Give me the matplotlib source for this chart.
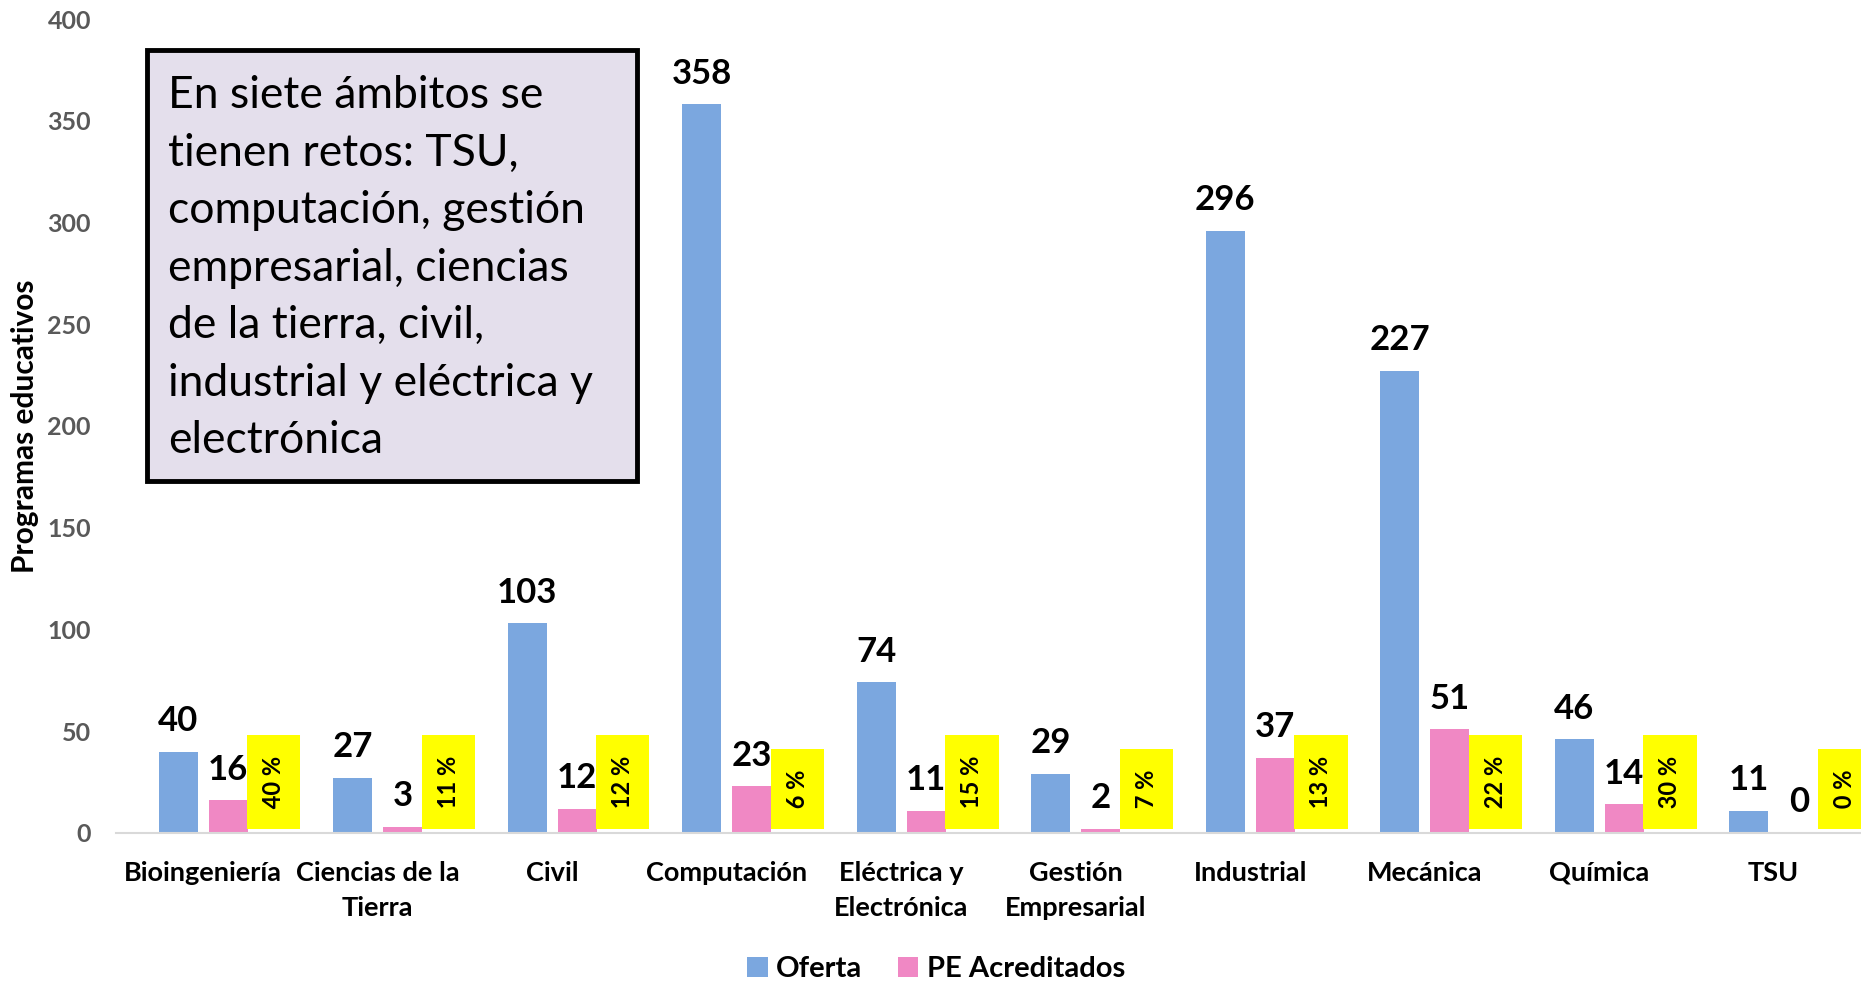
import matplotlib
matplotlib.use("Agg")
import matplotlib.pyplot as plt
from matplotlib.patches import Rectangle
import numpy as np

categories = ["Bioingeniería", "Ciencias de la\nTierra", "Civil", "Computación",
              "Eléctrica y\nElectrónica", "Gestión\nEmpresarial", "Industrial",
              "Mecánica", "Química", "TSU"]
oferta = [40, 27, 103, 358, 74, 29, 296, 227, 46, 11]
acreditados = [16, 3, 12, 23, 11, 2, 37, 51, 14, 0]
porcentajes = ["40 %", "11 %", "12 %", "6 %", "15 %", "7 %", "13 %", "22 %", "30 %", "0 %"]
yticks = [0, 50, 100, 150, 200, 250, 300, 350, 400]
note = ("En siete ámbitos se\ntienen retos: TSU,\ncomputación, gestión\n"
        "empresarial, ciencias\nde la tierra, civil,\nindustrial y eléctrica y\nelectrónica")

FONT = "Lato"
plt.rcParams['font.family'] = [FONT, 'DejaVu Sans']

BLUE = "#7BA7DF"
PINK = "#F088C4"
YELLOW = "#FFFF00"

fig = plt.figure(figsize=(18.61, 9.81), dpi=100)
ax = fig.add_axes([0.0623, 0.1509, 0.9377, 0.8297])

x = np.arange(len(categories))
w = 0.224
off = 0.143
b1 = ax.bar(x - off, oferta, w, color=BLUE, label="Oferta")
b2 = ax.bar(x + off, acreditados, w, color=PINK, label="PE Acreditados")

for xi, v in zip(x, oferta):
    ax.annotate(str(v), (xi - off, v), xytext=(0, 10.5), textcoords="offset points",
                ha="center", va="bottom", fontsize=25, fontweight="bold", color="black")
for xi, v in zip(x, acreditados):
    ax.annotate(str(v), (xi + off, v), xytext=(0, 10.5), textcoords="offset points",
                ha="center", va="bottom", fontsize=25, fontweight="bold", color="black")
for xi, p in zip(x, porcentajes):
    ax.annotate(" " + p + " ", (xi + 0.405, 0), xytext=(0, 13.7), textcoords="offset points",
                ha="center", va="bottom", rotation=90, fontsize=17, fontweight="bold",
                color="black", annotation_clip=False,
                bbox=dict(boxstyle="square,pad=0.64", fc=YELLOW, ec="none"))

ax.set_xlim(-0.5, 9.5)
ax.set_ylim(0, 400)
ax.set_yticks(yticks)
ax.set_xticks(x)
ax.set_xticklabels(categories, fontsize=19.5, fontweight="bold", color="black", linespacing=1.55)
for t in ax.get_yticklabels():
    t.set_fontsize(18)
    t.set_fontweight("bold")
    t.set_color("#595959")
ax.tick_params(axis="y", length=0, pad=18)
ax.tick_params(axis="x", length=0, pad=20)
for s in ["top", "right", "left"]:
    ax.spines[s].set_visible(False)
ax.spines["bottom"].set_color("#D9D9D9")
ax.spines["bottom"].set_linewidth(1.5)

fig.text(0.0135, 0.566, "Programas educativos", rotation=90, ha="center", va="center",
         fontsize=21.5, fontweight="bold", color="black")

fig.patches.append(Rectangle((0.079, 0.5097), 0.2633, 0.4394, transform=fig.transFigure,
                             fc="#E4DFEC", ec="black", lw=3.5, zorder=5))
fig.text(0.0905, 0.9233, note, ha="left", va="top", fontsize=32, color="black",
         linespacing=1.5, zorder=6)

fig.legend(handles=[b1, b2], loc="center", bbox_to_anchor=(0.503, 0.012), ncol=2,
           frameon=False, prop=dict(family=FONT, size=21, weight="bold"),
           handlelength=0.7, handleheight=0.7, handletextpad=0.3, columnspacing=1.2)

fig.savefig("out.png", dpi=100)
